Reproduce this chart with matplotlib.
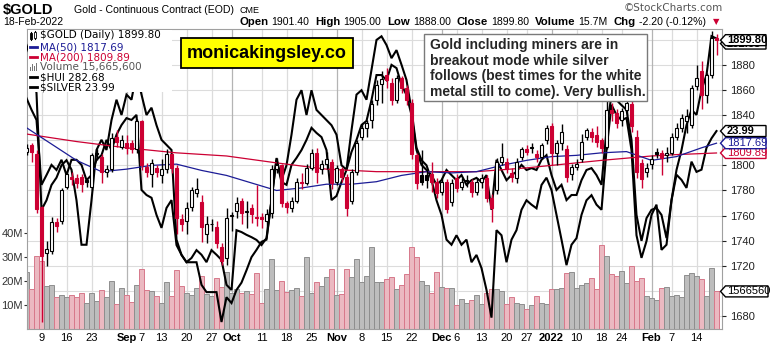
import matplotlib
matplotlib.use("Agg")
import matplotlib.pyplot as plt
from matplotlib.patches import Rectangle, Polygon
from matplotlib.transforms import IdentityTransform, blended_transform_factory
import numpy as np

W, H = 772, 346

# gold daily bars, Aug 4 2021 .. Feb 18 2022 (trading days)
opens = [1811, 1816, 1809, 1767, 1730, 1732, 1755, 1756, 1783, 1791,
         1790, 1791, 1788, 1783, 1810, 1807, 1795, 1797, 1823, 1815,
         1818, 1818, 1813, 1835, 1799, 1793, 1798, 1792, 1797, 1809,
         1798, 1757, 1756, 1767, 1778, 1771, 1745, 1753, 1751, 1735,
         1726, 1760, 1764, 1772, 1763, 1766, 1759, 1759, 1756, 1762,
         1797, 1800, 1770, 1766, 1772, 1787, 1786, 1798, 1810, 1797,
         1801, 1803, 1787, 1797, 1791, 1772, 1795, 1823, 1830, 1836,
         1852, 1865, 1872, 1866, 1852, 1870, 1862, 1850, 1808, 1792,
         1792, 1793, 1787, 1779, 1787, 1771, 1790, 1783, 1787.8, 1787,
         1779, 1787, 1790, 1774, 1780, 1803, 1803, 1794, 1790, 1807,
         1813, 1815, 1809, 1807, 1820, 1831, 1810, 1818, 1813, 1793,
         1799, 1805, 1823, 1827, 1824, 1820, 1815, 1844, 1842, 1836,
         1844, 1849, 1823, 1802, 1795, 1801, 1811, 1810, 1808, 1810,
         1823, 1830, 1835, 1832, 1863, 1875, 1856, 1872, 1901.4]
highs = [1817, 1818, 1812, 1768, 1740, 1759, 1758, 1782, 1795, 1795,
         1793, 1793, 1790, 1810, 1813, 1809, 1800, 1826, 1828, 1824,
         1824, 1820, 1837, 1836, 1802, 1805, 1800, 1805, 1813, 1810,
         1800, 1761, 1771, 1783, 1790, 1776, 1760, 1757, 1756, 1738,
         1766, 1763, 1775, 1774, 1772, 1769, 1784, 1762, 1765, 1800,
         1806, 1801, 1772, 1775, 1790, 1794, 1801, 1813, 1814, 1804,
         1811, 1805, 1800, 1799, 1793, 1797, 1820, 1834, 1836, 1852,
         1868, 1875, 1878, 1870, 1872, 1871, 1864, 1853, 1810, 1812,
         1797, 1803, 1790, 1790, 1789, 1789, 1793, 1790, 1792, 1789,
         1790, 1793, 1792, 1777, 1806, 1818, 1806, 1798, 1806, 1815,
         1816, 1818, 1812, 1818, 1832, 1834, 1820, 1833, 1816, 1801,
         1805, 1825, 1830, 1830, 1831, 1822, 1852, 1850, 1845, 1846,
         1857, 1854, 1828, 1805, 1802, 1808, 1814, 1812, 1815, 1826,
         1834, 1841, 1845, 1864, 1880, 1883, 1874, 1907, 1905]
lows = [1808, 1803, 1762, 1675, 1720, 1729, 1747, 1753, 1781, 1784,
        1782, 1779, 1783, 1780, 1804, 1786, 1791, 1795, 1815, 1813,
        1809, 1810, 1810, 1796, 1791, 1783, 1791, 1786, 1794, 1794,
        1745, 1748, 1745, 1764, 1775, 1739, 1738, 1748, 1734, 1721,
        1721, 1748, 1758, 1753, 1750, 1754, 1752, 1750, 1750, 1758,
        1794, 1767, 1762, 1763, 1770, 1781, 1784, 1796, 1786, 1793,
        1797, 1781, 1784, 1787, 1760, 1769, 1792, 1820, 1823, 1830,
        1848, 1850, 1862, 1848, 1850, 1858, 1848, 1805, 1781, 1784,
        1782, 1779, 1774, 1776, 1762, 1768, 1779, 1780, 1783, 1775,
        1776, 1782, 1771, 1755, 1777, 1800, 1794, 1787, 1786, 1804,
        1808, 1810, 1803, 1805, 1817, 1800, 1800, 1812, 1787, 1788,
        1796, 1803, 1820, 1819, 1815, 1810, 1813, 1835, 1830, 1831,
        1840, 1827, 1790, 1782, 1791, 1797, 1806, 1792, 1803, 1808,
        1820, 1827, 1826, 1830, 1860, 1845, 1850, 1870, 1888]
closes = [1814, 1811, 1765, 1728, 1733, 1755, 1752, 1780, 1793, 1789,
          1786, 1785, 1787, 1808, 1809, 1795, 1797, 1822, 1819, 1820,
          1814, 1813, 1835, 1800, 1795, 1802, 1795, 1797, 1809, 1798,
          1758, 1753, 1766, 1780, 1781, 1751, 1753, 1753.5, 1738, 1724,
          1758, 1760.5, 1770, 1762, 1764, 1761, 1758, 1757, 1761, 1797,
          1800, 1770, 1767, 1772, 1787, 1786, 1798, 1810, 1795, 1801,
          1805, 1786, 1798, 1791, 1766, 1795, 1818, 1830, 1834, 1849,
          1864, 1869, 1868, 1852, 1870, 1862, 1852, 1809, 1786, 1787,
          1788, 1786.5, 1778, 1787, 1765, 1786, 1782, 1787, 1787.5, 1779,
          1787, 1790, 1774, 1766, 1803, 1807, 1797, 1791, 1803, 1813,
          1811, 1814, 1807, 1816, 1830, 1810, 1818, 1827, 1791, 1799,
          1801, 1819, 1828, 1823, 1819, 1814, 1844, 1842, 1834, 1843,
          1850, 1831, 1795, 1789, 1798, 1805, 1809, 1806, 1810, 1823,
          1830, 1838, 1839, 1862, 1870, 1856, 1872, 1901.5, 1899.8]
# volume, millions of contracts
volume = [23.6, 16.7, 30.4, 28.3, 17.9, 18.3, 13.2, 14.1, 13.2, 14.1,
          13.2, 15.0, 10.7, 15.0, 11.8, 16.3, 13.2, 19.9, 10.3, 17.2,
          14.1, 11.2, 18.4, 24.9, 16.1, 15.7, 13.7, 11.0, 19.5, 13.6,
          24.6, 17.9, 15.0, 14.1, 17.2, 22.2, 14.6, 13.6, 21.4, 17.6,
          23.6, 15.0, 16.7, 15.0, 15.8, 14.6, 23.2, 11.0, 16.7, 29.0,
          16.3, 19.9, 15.6, 16.3, 17.2, 13.6, 30.1, 15.0, 19.5, 17.9,
          21.7, 24.9, 14.1, 14.6, 24.9, 21.7, 29.0, 19.5, 22.2, 34.0,
          19.5, 19.5, 20.7, 21.7, 16.7, 18.3, 22.8, 34.3, 30.1, 19.9,
          18.3, 15.0, 23.6, 17.6, 17.2, 17.2, 9.9, 12.4, 10.7, 11.9,
          14.1, 10.3, 15.0, 16.7, 16.7, 15.8, 10.3, 13.2, 10.7, 10.3,
          8.2, 9.9, 13.6, 11.0, 10.3, 16.7, 16.7, 17.2, 23.2, 23.6,
          17.2, 18.3, 19.2, 21.4, 16.7, 34.9, 30.6, 22.8, 22.2, 24.0,
          19.2, 26.1, 19.9, 21.4, 13.6, 12.8, 11.9, 17.2, 17.6, 13.6,
          14.1, 13.2, 22.4, 23.2, 22.2, 20.7, 13.6, 25.6, 15.6656]
# overlays
hui = [269.8, 267.3, 265.1, 251.1, 253.2, 255.4, 254.3, 256.5, 253.2, 256.5,
       256.5, 255.4, 252.1, 253.2, 256.5, 257.5, 260.8, 258.6, 261.9, 264.0,
       265.5, 265.1, 266.2, 250.0, 248.9, 248.3, 244.6, 241.8, 246.1, 247.8,
       238.1, 236.0, 234.4, 235.3, 237.0, 236.0, 234.4, 237.0, 236.0, 234.9,
       229.5, 228.4, 241.3, 240.9, 240.3, 239.8, 239.2, 238.1, 239.6, 247.8,
       256.5, 251.7, 251.1, 255.4, 256.9, 258.6, 260.8, 263.4, 262.3, 261.4,
       258.6, 247.8, 248.7, 251.7, 254.3, 258.2, 260.8, 264.0, 264.9, 269.4,
       274.8, 274.8, 273.7, 277.0, 276.3, 272.7, 270.5, 266.2, 258.6, 255.4,
       254.3, 253.2, 251.1, 252.1, 254.3, 253.2, 252.1, 253.2, 251.1, 252.1,
       252.6, 251.7, 253.2, 245.7, 256.5, 254.3, 252.1, 253.2, 253.9, 255.4,
       254.3, 254.7, 254.3, 256.5, 257.5, 253.2, 250.0, 251.1, 247.8, 248.9,
       248.9, 252.1, 254.3, 254.7, 253.2, 251.1, 262.9, 270.5, 269.4, 268.3,
       267.3, 260.8, 244.6, 239.0, 243.9, 245.7, 246.1, 244.6, 239.6, 247.8,
       254.3, 258.6, 264.0, 267.3, 266.2, 271.6, 274.8, 283.2, 282.68]
silver = [25.17, 24.97, 24.51, 22.91, 23.04, 23.25, 23.35, 23.52, 23.59, 23.46,
          23.04, 22.43, 22.43, 23.04, 23.73, 23.87, 23.73, 24.14, 24.42, 24.21,
          24.49, 24.42, 24.79, 24.49, 24.21, 24.31, 24.07, 23.87, 23.80, 23.73,
          22.50, 22.29, 22.19, 22.19, 22.19, 21.88, 21.78, 21.78, 21.78, 21.37,
          21.71, 21.63, 21.81, 21.91, 22.08, 22.26, 22.36, 22.47, 22.50, 23.04,
          23.62, 23.32, 23.52, 23.94, 24.42, 24.55, 24.21, 24.55, 24.28, 24.21,
          24.14, 24.07, 23.94, 23.52, 23.46, 24.00, 24.49, 24.55, 24.42, 24.83,
          25.24, 25.29, 25.17, 24.99, 25.10, 24.90, 24.69, 24.28, 23.76, 23.59,
          23.52, 23.32, 23.04, 22.84, 22.50, 22.43, 22.56, 22.43, 22.50, 22.19,
          22.29, 22.11, 21.81, 21.43, 22.63, 22.56, 22.19, 22.50, 22.63, 22.91,
          23.04, 22.98, 22.93, 23.25, 23.35, 23.18, 22.84, 22.50, 22.15, 22.43,
          22.52, 22.84, 23.04, 23.11, 22.98, 22.91, 23.73, 24.35, 24.21, 24.14,
          24.17, 23.73, 22.56, 22.25, 22.48, 22.84, 22.98, 22.36, 22.43, 23.04,
          23.39, 23.32, 23.21, 23.57, 23.43, 23.46, 23.76, 23.89, 23.99]
# moving averages, weekly readings
ma50_day = [0, 5, 10, 15, 20, 25, 30, 35, 40, 45, 50, 55, 60, 65, 70,
            75, 80, 85, 90, 95, 100, 105, 110, 115, 120, 125, 130, 135, 138]
ma50 = [1830, 1817, 1804, 1795, 1797, 1800, 1801, 1796, 1792, 1786, 1780,
        1782, 1785, 1785, 1787, 1792, 1795, 1794, 1795, 1800, 1804, 1807,
        1808, 1810, 1811, 1804, 1807, 1814, 1817.69]
ma200_day = [0, 10, 20, 30, 40, 50, 60, 70, 80, 90, 100, 105, 115, 125, 130, 138]
ma200 = [1825, 1819, 1814, 1810, 1807.5, 1802, 1797, 1795, 1795, 1795,
         1798, 1800, 1804, 1807.5, 1808.6, 1809.89]

tick_day = [3, 8, 13, 20, 23, 27, 32, 37, 41, 47, 52, 57, 62, 67, 72, 77,
            83, 86, 91, 96, 100, 105, 110, 115, 119, 125, 129, 134]
tick_lbl = ["9", "16", "23", "Sep", "7", "13", "20", "27", "Oct", "11", "18",
            "25", "Nov", "8", "15", "22", "Dec", "6", "13", "20", "27", "2022",
            "10", "18", "24", "Feb", "7", "14"]
months = ["Sep", "Oct", "Nov", "Dec", "2022", "Feb"]
price_ticks = [1680, 1700, 1720, 1740, 1760, 1780, 1800, 1820, 1840, 1860, 1880]
price_lbls = ["1680", "", "1720", "1740", "1760", "1780", "1800", "",
              "1840", "1860", "1880"]

RED = '#cc0033'
NAVY = '#1c1c96'
FONT = 'Liberation Sans'


def fx(x):
    return x / W


def fy(y):
    return 1 - y / H


fig = plt.figure(figsize=(W / 100, H / 100), dpi=100)
fig.patch.set_facecolor('white')

rect = [fx(27), fy(329), (722 - 27) / W, (329 - 29) / H]
vax = fig.add_axes(rect)
ax = vax.twinx()
hax = vax.twinx()
sax = vax.twinx()

n = len(closes)
days = np.arange(n)
xlim = (0.1, 139.1)
plim = (1669.6, 1908.7)

# volume axis at the bottom of the stack, carries the grid
vax.set_xlim(*xlim)
vax.set_ylim(0, 125)
vax.set_facecolor('white')
gtr = blended_transform_factory(vax.transAxes, ax.transData)
for p in range(1680, 1910, 20):
    vax.plot([0, 1], [p, p], transform=gtr, color='#dcdcdc', lw=0.8, zorder=0)
for d, lb in zip(tick_day, tick_lbl):
    vax.axvline(d, color='#b4b4b4' if lb in months else '#dcdcdc', lw=0.9, zorder=0)

down = [False] + [closes[i] < closes[i - 1] for i in range(1, n)]
down[0] = closes[0] < opens[0]
vfc = ['#ebb9c1' if d else '#bdbdbd' for d in down]
vec = ['#d7788b' if d else '#8e8e8e' for d in down]
vax.bar(days, volume, width=0.9, color=vfc, edgecolor=vec, linewidth=0.7, zorder=2)
vax.set_yticks([10, 20, 30, 40])
vax.set_yticklabels(['10M', '20M', '30M', '40M'])
vax.yaxis.tick_left()
vax.tick_params(axis='y', length=2, pad=1, labelsize=8, colors='#333333')
vax.tick_params(axis='x', length=0, pad=3)
vax.set_xticks(tick_day)
vax.set_xticklabels(tick_lbl, fontsize=8, family=FONT)
for t in vax.get_xticklabels():
    if t.get_text() in months:
        t.set_fontweight('bold')
for t in vax.get_yticklabels():
    t.set_family(FONT)
for s in vax.spines.values():
    s.set_color('#a0a0a0')

# overlays behind price
hax.set_ylim(219.97, 284.74)
sax.set_ylim(21.274, 25.390)
for a in (hax, sax):
    a.set_xlim(*xlim)
    a.patch.set_visible(False)
    a.set_axis_off()
hax.plot(days, hui, color='black', lw=1.5, zorder=3, solid_joinstyle='miter')
sax.plot(days, silver, color='black', lw=1.5, zorder=3, solid_joinstyle='miter')

# price axis on top
ax.set_xlim(*xlim)
ax.set_ylim(*plim)
ax.patch.set_visible(False)
ax.set_yticks(price_ticks)
ax.set_yticklabels(price_lbls)
ax.yaxis.tick_right()
ax.tick_params(axis='y', length=3, pad=3, labelsize=8, colors='#222222')
for t in ax.get_yticklabels():
    t.set_family(FONT)
for s in ax.spines.values():
    s.set_visible(False)

ax.plot(ma200_day, ma200, color=RED, lw=0.9, zorder=4)
ax.plot(ma50_day, ma50, color=NAVY, lw=0.9, zorder=4)

for i in range(n):
    o, h, l, c = opens[i], highs[i], lows[i], closes[i]
    col = RED if down[i] else 'black'
    ax.plot([i, i], [l, h], color=col, lw=1.0, zorder=5, solid_capstyle='butt')
    lo, hi = min(o, c), max(o, c)
    if hi - lo < 0.6:
        hi = lo + 0.6
    face = col if c < o else 'white'
    ax.add_patch(Rectangle((i - 0.36, lo), 0.72, hi - lo, facecolor=face,
                           edgecolor=col, lw=0.8, zorder=6))

for a in (vax, ax, hax, sax):
    a.set_zorder({vax: 1, hax: 2, sax: 3, ax: 4}[a])

# legend block, drawn over the plot
fig.add_artist(Rectangle((fx(27.5), fy(92)), (172 - 27.5) / W, 62 / H,
                         transform=fig.transFigure, facecolor='white',
                         edgecolor='none', zorder=20))
leg = [("$GOLD (Daily) 1899.80", 'black', 35),
       ("MA(50) 1817.69", NAVY, 47),
       ("MA(200) 1809.89", RED, 57),
       ("Volume 15,665,600", '#555555', 67),
       ("$HUI 282.68", 'black', 77),
       ("$SILVER 23.99", 'black', 87)]
for k, (txt, col, y) in enumerate(leg):
    fig.text(fx(40), fy(y), txt, color=col, fontsize=7.5, family='DejaVu Sans',
             va='center', ha='left', zorder=21)
    if k in (1, 2, 4, 5):
        fig.add_artist(plt.Line2D([fx(30), fx(37)], [fy(y), fy(y)], color=col,
                                  lw=2, zorder=21))
    elif k == 0:
        for xx, top, bot, fill in [(31, 33, 39, 'black'), (35, 32, 38, 'white')]:
            fig.add_artist(plt.Line2D([fx(xx), fx(xx)], [fy(top - 1), fy(bot + 1)],
                                      color='black', lw=0.8, zorder=21))
            fig.add_artist(Rectangle((fx(xx - 1.2), fy(bot)), 2.4 / W, (bot - top) / H,
                                     facecolor=fill, edgecolor='black', lw=0.6,
                                     zorder=22))
    else:
        for xx, hh in [(30, 4), (32, 7), (34, 5), (36, 8)]:
            fig.add_artist(Rectangle((fx(xx), fy(71)), 1.4 / W, hh / H,
                                     facecolor='#777777', edgecolor='none', zorder=21))

# watermark and comment boxes
fig.text(fx(267), fy(53), "monicakingsley.co", fontsize=13, fontweight='bold',
         family=FONT, ha='center', va='center', zorder=22,
         bbox=dict(boxstyle='square,pad=0.35', facecolor='#ffff00',
                   edgecolor='black', lw=1.3))
fig.add_artist(Rectangle((fx(424), fy(101)), 223 / W, 67 / H,
                         transform=fig.transFigure, facecolor='white',
                         edgecolor='#7a7a7a', lw=1, zorder=20))
note = ["Gold including miners are in", "breakout mode while silver",
        "follows (best times for the white", "metal still to come). Very bullish."]
for k, line in enumerate(note):
    fig.text(fx(430), fy(45.5 + 15.4 * k), line, fontsize=10, fontweight='bold',
             family=FONT, color='#262626', va='center', ha='left', zorder=21)

# value tags on the right edge, later tags stack on top
fig.canvas.draw()
x_r = ax.transAxes.transform((1, 0))[0]
tag_z = [30]


def tag(a, val, text, col, bold=False, dy=0, width=44):
    yd = a.transData.transform((0, val))[1] - dy
    pts = [(x_r - 1.5, yd), (x_r + 3.5, yd + 5.5), (x_r + width, yd + 5.5),
           (x_r + width, yd - 5.5), (x_r + 3.5, yd - 5.5)]
    z = tag_z[0]
    fig.add_artist(Polygon(pts, closed=True, transform=IdentityTransform(),
                           facecolor='white', edgecolor=col, lw=1, zorder=z))
    fig.text((x_r + 5) / W, yd / H, text, color=col, fontsize=8,
             fontweight='bold' if bold else 'normal', family=FONT,
             ha='left', va='center', zorder=z + 1)
    tag_z[0] += 2


tag(hax, hui[-1], "282.68", 'black', bold=True, dy=5)
tag(ax, closes[-1], "1899.80", 'black', bold=True)
tag(vax, volume[-1], "1566560", 'black', width=46)
tag(ax, ma200[-1], "1809.89", RED)
tag(ax, ma50[-1], "1817.69", NAVY)
tag(sax, silver[-1], "23.99", 'black', bold=True)

# header
fig.text(fx(3), fy(10), "$GOLD", fontsize=10.5, fontweight='bold', family=FONT,
         va='center', ha='left')
fig.text(fx(74), fy(10), "Gold - Continuous Contract (EOD)", fontsize=7.6,
         family=FONT, va='center', ha='left')
fig.text(fx(239), fy(10.5), "CME", fontsize=6.5, family=FONT, va='center', ha='left')
fig.text(fx(3), fy(22), "18-Feb-2022", fontsize=7.5, family=FONT, va='center', ha='left')
fig.text(fx(723), fy(8), "\u00a9StockCharts.com", fontsize=7.5, family='DejaVu Sans',
         color='#555555', va='center', ha='right')

pieces = [("Open", True), ("1901.40", False), ("High", True), ("1905.00", False),
          ("Low", True), ("1888.00", False), ("Close", True), ("1899.80", False),
          ("Volume", True), ("15.7M", False), ("Chg", True), ("-2.20 (-0.12%)", False)]
rend = fig.canvas.get_renderer()
xx = 239
for txt, bold in pieces:
    t = fig.text(fx(xx), fy(22), txt, fontsize=8.2 if bold else 7.6,
                 fontweight='bold' if bold else 'normal', family=FONT,
                 va='center', ha='left')
    xx += t.get_window_extent(renderer=rend).width + (3 if bold else 6)
fig.text(fx(xx + 1), fy(21.5), "\u25bc", color=RED, fontsize=6, family='DejaVu Sans',
         va='center', ha='left')

fig.savefig('out.png', dpi=100)
